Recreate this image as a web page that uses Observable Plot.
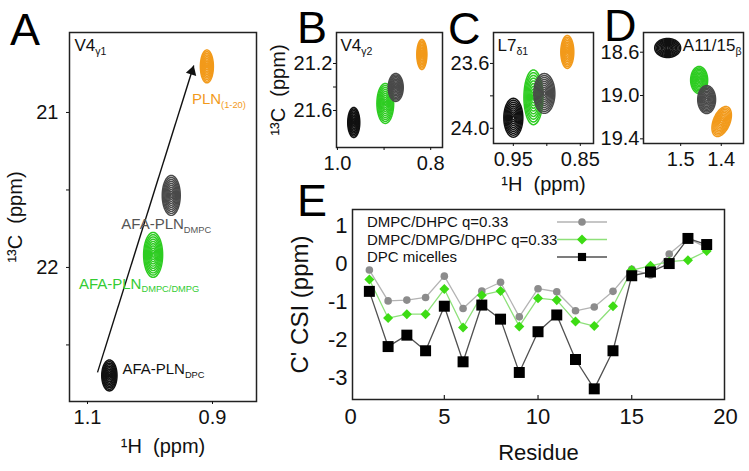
<!DOCTYPE html>
<html><head><meta charset="utf-8">
<script src="https://cdn.jsdelivr.net/npm/d3@7"></script>
<script src="https://cdn.jsdelivr.net/npm/@observablehq/plot@0.6"></script>
<style>
html,body{margin:0;padding:0;background:#fff;}
#fig{position:relative;width:749px;height:471px;overflow:hidden;font-family:"Liberation Sans",Arial,sans-serif;}
#fig > svg{position:absolute;}
</style></head><body><div id="fig"></div>
<script>
// ---------- data ----------
const samples = ["PLN(1-20)", "AFA-PLN DMPC", "AFA-PLN DMPC/DMPG", "AFA-PLN DPC"];
const sampleColors = ["#f29a1b", "#4a4a4a", "#2ecc22", "#111111"];
const drawOrder = [2, 1, 3, 0];

// Panel A: V4 gamma1 (1H ppm, 13C ppm, half-widths)
const aH = [0.909, 0.966, 0.995, 1.065];
const aC = [20.703, 21.535, 21.919, 22.697];
const aWH = [0.0104, 0.0144, 0.0152, 0.0122];
const aWC = [0.106, 0.129, 0.145, 0.100];
const arrowH = [1.084, 0.930];
const arrowC = [22.677, 20.697];

// Panel B: V4 gamma2
const bH = [0.819, 0.875, 0.8974, 0.965];
const bC = [21.123, 21.404, 21.540, 21.702];
const bWH = [0.0108, 0.0161, 0.0180, 0.0129];
const bWC = [0.128, 0.119, 0.170, 0.128];

// Panel C: L7 delta1
const cH = [0.8694, 0.9037, 0.920, 0.950];
const cC = [23.529, 23.785, 23.809, 23.935];
const cWH = [0.0097, 0.0157, 0.0142, 0.0142];
const cWC = [0.1015, 0.123, 0.169, 0.120];

// Panel D: A11/15 beta
const dH = [1.399, 1.436, 1.4545, 1.532];
const dC = [19.24, 19.037, 18.857, 18.561];
const dWH = [0.024, 0.022, 0.021, 0.032];
const dWC = [0.125, 0.129, 0.125, 0.088];
const dTilt = [2.5, 0, 0, 0];

// Panel E: C' chemical shift index
const residue = [1,2,3,4,5,6,7,8,9,10,11,12,13,14,15,16,17,18,19];
const csiDMPC = [-0.17,-0.98,-0.96,-0.89,-0.33,-1.18,-0.72,-0.49,-1.40,-0.66,-0.74,-1.24,-1.14,-0.73,-0.15,-0.30,0.25,0.66,0.42];
const csiDMPG = [-0.42,-1.43,-1.33,-1.33,-0.67,-1.68,-0.83,-0.72,-1.65,-0.91,-0.96,-1.52,-1.64,-1.12,-0.17,-0.06,0.05,0.09,0.33];
const csiDPC  = [-0.73,-2.18,-1.88,-2.29,-1.12,-2.58,-1.09,-1.46,-2.86,-1.79,-1.35,-2.52,-3.29,-2.29,-0.32,-0.22,0.00,0.66,0.50];
const legendLabels = ["DMPC/DHPC q=0.33", "DMPC/DMPG/DHPC q=0.33", "DPC micelles"];

// ---------- helpers ----------
const levels = [1, 0.9, 0.8, 0.7, 0.6, 0.5, 0.4, 0.3, 0.2, 0.1];
function rings(H, C, WH, WC, tilt = []) {
  const out = [];
  for (const i of drawOrder) levels.forEach((f, k) => {
    for (let j = 0; j <= 56; j++) {
      const t = 2 * Math.PI * j / 56;
      const dh = WH[i] * f * Math.cos(t);
      out.push({sample: samples[i], ring: i + "-" + k, h: H[i] + dh, c: C[i] + WC[i] * f * Math.sin(t) + (tilt[i] || 0) * dh});
    }
  });
  return out;
}
function rich(svg) {
  for (const t of svg.querySelectorAll("text")) {
    const s = t.textContent;
    if (!/[_^]\{/.test(s)) continue;
    while (t.firstChild) t.removeChild(t.firstChild);
    const re = /([_^])\{([^}]*)\}/g;
    let last = 0, m, shifted = 0;
    const add = (str, kind) => {
      const ts = document.createElementNS("http://www.w3.org/2000/svg", "tspan");
      ts.textContent = str;
      if (kind) {
        ts.setAttribute("font-size", "62%");
        const off = kind === "_" ? 0.25 : -0.4;
        ts.setAttribute("dy", ((off - shifted) / 0.62).toFixed(3) + "em");
        shifted = off;
      } else if (shifted) {
        ts.setAttribute("dy", (-shifted).toFixed(3) + "em");
        shifted = 0;
      }
      t.appendChild(ts);
    };
    while ((m = re.exec(s))) {
      if (m.index > last) add(s.slice(last, m.index));
      add(m[2], m[1]);
      last = re.lastIndex;
    }
    if (last < s.length) add(s.slice(last));
  }
}
const fig = document.getElementById("fig");
function place(svg, left, top) {
  rich(svg);
  svg.style.left = left + "px";
  svg.style.top = top + "px";
  fig.appendChild(svg);
}
const baseStyle = {fontFamily: "Liberation Sans, Arial, sans-serif", color: "#111", background: "transparent", overflow: "visible"};
const f1 = d => d.toFixed(1), f2 = d => d.toFixed(2), f0 = d => String(d);

function nmr(o) {
  const marks = [
    Plot.line(o.rings, {x: "h", y: "c", z: "ring", stroke: "sample", strokeWidth: 1.5}),
    ...(o.extra || []),
    Plot.frame({stroke: "#222", strokeWidth: 1.5}),
    Plot.axisX({ticks: o.xTicks, tickFormat: o.xFmt, tickSize: 3, tickPadding: o.padX, fontSize: o.fs,
      label: o.xLabel ?? null, labelAnchor: "center", labelOffset: o.xLabelOffset, labelArrow: "none"}),
    Plot.axisY({ticks: o.yTicks, tickFormat: o.yFmt, tickSize: 3, tickPadding: o.padY, fontSize: o.fs,
      label: o.yLabel ?? null, labelAnchor: "center", labelOffset: o.yLabelOffset, labelArrow: "none"})
  ];
  if (o.xMinor) marks.push(Plot.axisX({ticks: o.xMinor, tickFormat: () => "", tickSize: 3, label: null}));
  if (o.yMinor) marks.push(Plot.axisY({ticks: o.yMinor, tickFormat: () => "", tickSize: 3, label: null}));
  if (o.tag) marks.push(Plot.text([o.tag], {text: d => d, frameAnchor: o.tagAnchor || "top-left", textAnchor: o.tagAnchor === "top-right" ? "end" : "start",
    lineAnchor: "top", dx: o.tagDx ?? 5, dy: 6, fontSize: 17, fill: "#111"}));
  return Plot.plot({
    width: o.width, height: o.height,
    marginLeft: o.m[0], marginRight: o.m[1], marginTop: o.m[2], marginBottom: o.m[3],
    x: {domain: o.xDomain}, y: {domain: o.yDomain},
    color: {domain: samples, range: sampleColors},
    style: baseStyle,
    marks
  });
}

// ---------- Panel A ----------
const arrowRow = [{h1: arrowH[0], c1: arrowC[0], h2: arrowH[1], c2: arrowC[1]}];
const pA = nmr({
  width: 270, height: 471, m: [69, 14, 32, 70],
  xDomain: [1.1288, 0.8296], yDomain: [22.865, 20.484],
  rings: rings(aH, aC, aWH, aWC),
  xTicks: [1.1, 0.9], xFmt: f1, yTicks: [21, 22], yFmt: f0, yMinor: [21.5, 22.5],
  fs: 20, padX: 5, padY: 8,
  xLabel: "¹H  (ppm)", xLabelOffset: 51, yLabel: "¹³C  (ppm)", yLabelOffset: 62,
  tag: "V4_{γ1}",
  extra: [
    Plot.link(arrowRow, {x1: "h1", y1: "c1", x2: "h2", y2: "c2", stroke: "#111", strokeWidth: 1.4}),
    Plot.dot(arrowRow, {x: "h2", y: "c2", symbol: "triangle", r: 4, fill: "#111", rotate: 17, dx: -1.8, dy: 5.9}),
    Plot.text([0], {x: i => aH[i], y: i => aC[i], text: () => "PLN_{(1-20)}", dx: 12, dy: 33, fontSize: 15, fill: sampleColors[0]}),
    Plot.text([1], {x: i => aH[i], y: i => aC[i], text: () => "AFA-PLN_{DMPC}", dx: -5, dy: 29, fontSize: 15, fill: "#555"}),
    Plot.text([2], {x: i => aH[i], y: i => aC[i], text: () => "AFA-PLN_{DMPC/DMPG}", dx: -14, dy: 29, fontSize: 15, fill: "#3c3"}),
    Plot.text([3], {x: i => aH[i], y: i => aC[i], text: () => "AFA-PLN_{DPC}", dx: 13, dy: -6, textAnchor: "start", fontSize: 15, fill: "#111"})
  ]
});
place(pA, 0, 0);

// ---------- Panel B ----------
place(nmr({
  width: 180, height: 200, m: [66, 8, 32, 53],
  xDomain: [1.002, 0.7747], yDomain: [21.915, 20.936],
  rings: rings(bH, bC, bWH, bWC),
  xTicks: [1.0, 0.8], xFmt: f1, xMinor: [0.9], yTicks: [21.2, 21.6], yFmt: f1, yMinor: [21.4],
  fs: 20, padX: 5, padY: 1,
  yLabel: "¹³C  (ppm)", yLabelOffset: 66,
  tag: "V4_{γ2}", tagDx: 4
}), 270, 0);

// ---------- Panel C ----------
place(nmr({
  width: 150, height: 200, m: [43, 7, 32, 57],
  xDomain: [0.9796, 0.8303], yDomain: [24.094, 23.409],
  rings: rings(cH, cC, cWH, cWC),
  xTicks: [0.95, 0.85], xFmt: f2, xMinor: [0.9], yTicks: [23.6, 24.0], yFmt: f1, yMinor: [23.8],
  fs: 20, padX: 5, padY: 1,
  xLabel: "¹H  (ppm)", xLabelOffset: 47,
  tag: "L7_{δ1}", tagDx: 4
}), 450, 0);

// ---------- Panel D ----------
place(nmr({
  width: 149, height: 200, m: [43, 6, 32, 57],
  xDomain: [1.5916, 1.3452], yDomain: [19.443, 18.418],
  rings: rings(dH, dC, dWH, dWC, dTilt),
  xTicks: [1.5, 1.4], xFmt: f1, yTicks: [18.6, 19.0, 19.4], yFmt: f1,
  fs: 20, padX: 5, padY: 1,
  tag: "A11/15_{β}", tagAnchor: "top-right", tagDx: -2
}), 600, 0);

// ---------- Panel E ----------
const rows = residue.map((r, i) => ({r, dmpc: csiDMPC[i], dmpg: csiDMPG[i], dpc: csiDPC[i]}));
const eStyles = [
  {line: "#b3b3b3", fill: "#8c8c8c"},
  {line: "#8ee07a", fill: "#3ddc14"},
  {line: "#505050", fill: "#000000"}
];
place(Plot.plot({
  width: 479, height: 291, marginLeft: 82, marginRight: 25, marginTop: 29, marginBottom: 72,
  x: {domain: [0.1, 19.95]}, y: {domain: [-3.57, 1.42]},
  style: baseStyle,
  marks: [
    Plot.line(rows, {x: "r", y: "dmpc", stroke: eStyles[0].line, strokeWidth: 1.3}),
    Plot.line(rows, {x: "r", y: "dmpg", stroke: eStyles[1].line, strokeWidth: 1.3}),
    Plot.line(rows, {x: "r", y: "dpc", stroke: eStyles[2].line, strokeWidth: 1.3}),
    Plot.dot(rows, {x: "r", y: "dmpc", r: 3.8, fill: eStyles[0].fill}),
    Plot.dot(rows, {x: "r", y: "dmpg", symbol: "square", rotate: 45, r: 4, fill: eStyles[1].fill}),
    Plot.dot(rows, {x: "r", y: "dpc", symbol: "square", r: 6.2, fill: eStyles[2].fill}),
    Plot.ruleX([5, 10, 15], {insetTop: 186, stroke: "#222", strokeWidth: 1.2}),
    Plot.frame({stroke: "#222", strokeWidth: 1.5}),
    Plot.axisX({ticks: [0, 5, 10, 15, 20], tickFormat: f0, tickSize: 0, tickPadding: 9, fontSize: 22,
      label: "Residue", labelAnchor: "center", labelOffset: 60, labelArrow: "none"}),
    Plot.axisY({ticks: [-3, -2, -1, 0, 1], tickFormat: f0, tickSize: 0, tickPadding: 5, fontSize: 22, label: null}),
    Plot.axisY({ticks: [], tickSize: 0, fontSize: 24, label: "C' CSI (ppm)", labelAnchor: "center", labelOffset: 62, labelArrow: "none"})
  ]
}), 270, 180);

// ---------- overlay: panel letters and legend of E ----------
const NS = "http://www.w3.org/2000/svg";
const ov = document.createElementNS(NS, "svg");
ov.setAttribute("width", 749); ov.setAttribute("height", 471);
ov.style.left = "0px"; ov.style.top = "0px"; ov.style.pointerEvents = "none";
ov.setAttribute("font-family", "Liberation Sans, Arial, sans-serif");
const letters = [["A", 10, 45], ["B", 297, 43], ["C", 448, 44], ["D", 604, 41], ["E", 297, 216]];
for (const [L, x, y] of letters) {
  const t = document.createElementNS(NS, "text");
  t.setAttribute("x", x); t.setAttribute("y", y); t.setAttribute("font-size", 45); t.setAttribute("fill", "#000");
  t.textContent = L; ov.appendChild(t);
}
const legY = [222, 239.5, 257];
legendLabels.forEach((lab, i) => {
  const t = document.createElementNS(NS, "text");
  t.setAttribute("x", 367); t.setAttribute("y", legY[i] + 5); t.setAttribute("font-size", 15); t.setAttribute("fill", "#111");
  t.textContent = lab; ov.appendChild(t);
  const l = document.createElementNS(NS, "line");
  l.setAttribute("x1", 557); l.setAttribute("x2", 607); l.setAttribute("y1", legY[i]); l.setAttribute("y2", legY[i]);
  l.setAttribute("stroke", eStyles[i].line); l.setAttribute("stroke-width", 1.3); ov.appendChild(l);
  const p = document.createElementNS(NS, "path");
  const sym = i === 0 ? d3.symbol(d3.symbolCircle, Math.PI * 3.8 * 3.8) : d3.symbol(d3.symbolSquare, i === 1 ? Math.PI * 16 : Math.PI * 6.2 * 6.2 * 0.55);
  p.setAttribute("d", sym());
  p.setAttribute("transform", `translate(582,${legY[i]})` + (i === 1 ? " rotate(45)" : ""));
  p.setAttribute("fill", eStyles[i].fill); ov.appendChild(p);
});
fig.appendChild(ov);
</script></body></html>
